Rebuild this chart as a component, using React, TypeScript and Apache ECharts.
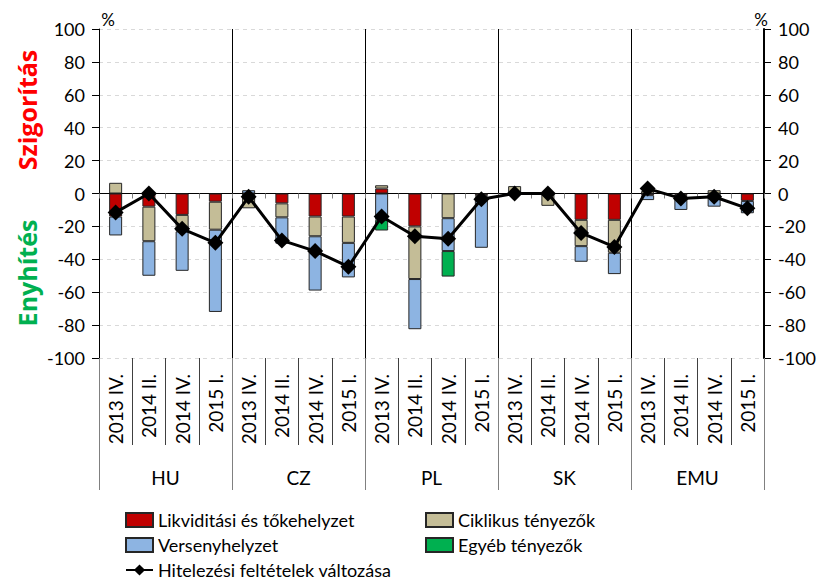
import React, { useEffect, useRef } from "react";
import * as echarts from "echarts";

const countries = ["HU", "CZ", "PL", "SK", "EMU"];
const periods = ["2013 IV.", "2014 II.", "2014 IV.", "2015 I."];
const categories = countries.flatMap(() => periods);

const yTicks = { min: -100, max: 100, interval: 20 };

const likviditasi = [
  -14, -8, -13, -5,
  null, -6, -14, -14,
  3, -20, null, -1,
  null, null, -16, -16,
  -1, -1, null, -4.5,
];
const ciklikus = [
  6.5, -21, -10, -17,
  -9, -8.5, -12, -16,
  2, -32, -15, -1,
  4.5, -7.5, -16, -20,
  1.5, -1, 2, null,
];
const verseny = [
  -11.5, -21, -24, -50,
  2, -16, -33, -21,
  -16, -30.5, -20, -31,
  null, null, -9.5, -13,
  -3, -8, -8, -7.5,
];
const egyeb = [
  null, null, null, null,
  null, null, null, null,
  -6.5, null, -15.5, null,
  null, null, null, null,
  null, null, null, null,
];
const hitelezesi = [
  -11.5, 0, -21.5, -30,
  -2, -28.5, -35, -44.5,
  -14, -26, -27.5, -3.5,
  0, 0, -24, -32.5,
  3, -3, -2, -9,
];

const FONT = "Lato";

export default function App() {
  const ref = useRef<HTMLDivElement>(null);
  useEffect(() => {
    if (!ref.current) return;
    const chart = echarts.init(ref.current, null, { renderer: "svg" });
    const barBase = {
      type: "bar",
      stack: "total",
      barWidth: 13,
      xAxisIndex: 0,
      yAxisIndex: 0,
    };
    const border = { borderColor: "#262626", borderWidth: 1 };
    const legendText = { fontSize: 18, color: "#000", fontFamily: FONT, lineHeight: 20 };
    const option: any = {
      animation: false,
      textStyle: { fontFamily: FONT },
      grid: { left: 99, right: 64, top: 29, bottom: 222, containLabel: false },
      xAxis: [
        {
          type: "category",
          data: categories,
          position: "bottom",
          axisLine: { show: false, onZero: false },
          axisTick: { show: true, interval: 0, length: 87, lineStyle: { color: "#404040" } },
          axisLabel: { interval: 0, rotate: 90, fontSize: 19, color: "#000", margin: 16, fontFamily: FONT },
          splitLine: { show: false },
        },
        {
          type: "category",
          data: countries,
          position: "bottom",
          axisLine: { show: false, onZero: false },
          axisTick: { show: true, interval: 0, length: 132, lineStyle: { color: "#808080" } },
          axisLabel: { interval: 0, fontSize: 19, color: "#000", margin: 110, fontFamily: FONT },
          splitLine: { show: true, interval: 0, lineStyle: { color: "#000", width: 1 } },
        },
        {
          type: "category",
          data: categories,
          position: "bottom",
          axisLine: { show: true, onZero: true, onZeroAxisIndex: 0, lineStyle: { color: "#000", width: 1 } },
          axisTick: { show: true, interval: 0, length: 5, lineStyle: { color: "#808080" } },
          axisLabel: { show: false },
          splitLine: { show: false },
        },
      ],
      yAxis: [
        {
          type: "value",
          ...yTicks,
          position: "left",
          axisLine: { show: true, onZero: false, lineStyle: { color: "#000", width: 1 } },
          axisTick: { show: true, length: 7, lineStyle: { color: "#000" } },
          axisLabel: { fontSize: 18, color: "#000", margin: 14, fontFamily: FONT },
          splitLine: { show: true, lineStyle: { color: "#d9d9d9", type: [4, 4] } },
        },
        {
          type: "value",
          ...yTicks,
          position: "right",
          axisLine: { show: true, onZero: false, lineStyle: { color: "#000", width: 2 } },
          axisTick: { show: true, length: 7, lineStyle: { color: "#000" } },
          axisLabel: { fontSize: 18, color: "#000", margin: 14, fontFamily: FONT },
          splitLine: { show: false },
        },
      ],
      legend: [
        {
          left: 125,
          top: 510,
          height: 80,
          orient: "vertical",
          itemWidth: 27,
          itemHeight: 14,
          itemGap: 5,
          padding: 0,
          textStyle: legendText,
          data: [
            { name: "Likviditási és tőkehelyzet", icon: "rect" },
            { name: "Versenyhelyzet", icon: "rect" },
            "Hitelezési feltételek változása",
          ],
        },
        {
          left: 425,
          top: 510,
          height: 80,
          orient: "vertical",
          itemWidth: 27,
          itemHeight: 14,
          itemGap: 5,
          padding: 0,
          textStyle: legendText,
          data: [
            { name: "Ciklikus tényezők", icon: "rect" },
            { name: "Egyéb tényezők", icon: "rect" },
          ],
        },
      ],
      graphic: [
        {
          type: "text",
          x: 27,
          y: 110,
          rotation: Math.PI / 2,
          style: { text: "Szigorítás", fill: "#FF0000", font: "bold 25px 'Open Sans'", textAlign: "center", textVerticalAlign: "middle" },
        },
        {
          type: "text",
          x: 27,
          y: 273,
          rotation: Math.PI / 2,
          style: { text: "Enyhítés", fill: "#00B050", font: "bold 25px 'Open Sans'", textAlign: "center", textVerticalAlign: "middle" },
        },
        {
          type: "text",
          x: 108,
          y: 19,
          style: { text: "%", fill: "#000", font: `17px ${FONT}`, textAlign: "center", textVerticalAlign: "middle" },
        },
        {
          type: "text",
          x: 761,
          y: 19,
          style: { text: "%", fill: "#000", font: `17px ${FONT}`, textAlign: "center", textVerticalAlign: "middle" },
        },
      ],
      series: [
        { ...barBase, name: "Likviditási és tőkehelyzet", data: likviditasi, itemStyle: { color: "#C00000", ...border } },
        { ...barBase, name: "Ciklikus tényezők", data: ciklikus, itemStyle: { color: "#C4BD97", ...border } },
        { ...barBase, name: "Versenyhelyzet", data: verseny, itemStyle: { color: "#8DB4E2", ...border } },
        { ...barBase, name: "Egyéb tényezők", data: egyeb, itemStyle: { color: "#00B050", ...border } },
        {
          type: "line",
          name: "Hitelezési feltételek változása",
          data: hitelezesi,
          xAxisIndex: 0,
          yAxisIndex: 0,
          symbol: "diamond",
          symbolSize: 16,
          z: 10,
          lineStyle: { color: "#000", width: 3 },
          itemStyle: { color: "#000" },
        },
      ],
    };
    chart.setOption(option);
    return () => chart.dispose();
  }, []);
  return <div ref={ref} style={{ width: 828, height: 580, position: "absolute", left: 0, top: 0 }} />;
}
